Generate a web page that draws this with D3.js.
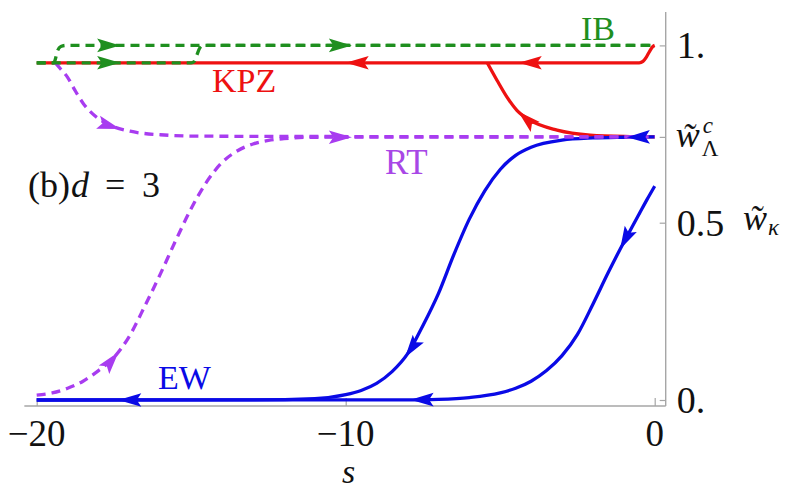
<!DOCTYPE html>
<html><head><meta charset="utf-8">
<script src="https://cdn.jsdelivr.net/npm/d3@7"></script>
<style>
body{margin:0;background:#fff}
svg{display:block}
text{font-family:"Liberation Serif","DejaVu Serif",serif}
</style>
</head><body>
<svg id="c" width="794" height="491"></svg>
<script>
// ---- data ----
const wc = 0.742;
const xTicks = [-20, -10, 0];
const yTicks = [0, 0.5, wc, 1];
const yTickLabels = ["0.", "0.5", "", "1."];

const redMain = [[-20,0.951],[-1,0.951],[-0.5,0.951],[-0.38,0.955],[-0.27,0.967],[-0.16,0.984],[-0.06,0.997],[0,1.0]];
const redBranch = [[-5.42,0.951],[-5.10,0.901],[-4.78,0.854],[-4.46,0.817],[-4.04,0.789],[-3.16,0.761],[-2.09,0.747],[-0.8,0.743],[0,wc]];
const blue1 = [[-20,0],[-13,0.0004],[-11,0.004],[-10,0.015],[-9.5,0.027],[-9,0.047],[-8.5,0.08],[-8,0.13],[-7.5,0.21],[-7,0.30],[-6.5,0.41],[-6,0.51],[-5.5,0.59],[-5,0.65],[-4.5,0.69],[-4,0.713],[-3,0.733],[-2,0.739],[-1,0.741],[0,wc]];
const blue2 = [[-20,0],[-8,0.0005],[-7,0.002],[-6,0.007],[-5,0.02],[-4.5,0.033],[-4,0.053],[-3.5,0.083],[-3,0.125],[-2.5,0.185],[-2,0.27],[-1.5,0.36],[-1,0.445],[-0.75,0.485],[-0.5,0.525],[-0.25,0.565],[0,0.603]];
const purpleA = [[-20,0.014],[-19.5,0.02],[-19,0.033],[-18.5,0.053],[-18,0.083],[-17.5,0.12],[-17,0.18],[-16.5,0.265],[-16,0.355],[-15.5,0.45],[-15,0.54],[-14.5,0.615],[-14,0.67],[-13.5,0.703],[-13,0.722],[-12.5,0.732],[-12,0.737],[-11,0.741],[0,wc]];
const purpleB = [[-19.4,0.951],[-19.24,0.935],[-19.0,0.91],[-18.76,0.873],[-18.5,0.837],[-18.1,0.80],[-17.63,0.775],[-16.98,0.758],[-16.0,0.748],[-14.7,0.744],[0,wc]];
const green1 = [[-20,0.951],[-15.0,0.951],[-14.9,0.955],[-14.82,0.972],[-14.72,0.993],[-14.6,1.0],[0,1.0]];
const green2 = [[-20,0.951],[-19.45,0.951],[-19.4,0.96],[-19.33,0.984],[-19.22,0.997],[-19.05,1.0],[0,1.0]];

// arrows: series name, s of tip, direction (+1 toward larger s, -1 toward smaller s)
const arrows = [
  ["redMain",-10.0,-1],["redMain",-4.4,-1],["redBranch",-4.42,-1],
  ["blue1",-0.9,-1],["blue1",-8.08,-1],["blue2",-1.12,-1],["blue2",-7.9,-1],["blue2",-17.36,-1],
  ["purpleA",-17.35,1],["purpleA",-9.8,1],["purpleB",-17.3,1],
  ["green1",-17.3,1],["green2",-17.3,1],["green2",-9.8,1]
];

const colors = {red:"#ee1111", blue:"#0a0ae6", purple:"#a83cf0", green:"#1f8f1f", axis:"#a6a6a6"};

// ---- drawing ----
const svg = d3.select("#c");
const x = d3.scaleLinear().domain([-20, 0]).range([36.7, 654.7]);
const y = d3.scaleLinear().domain([0, 1]).range([400, 45.4]);
const axX = 665.7, axY = 406;

// axes
svg.append("line").attr("x1", x(-20.4)).attr("x2", axX).attr("y1", axY).attr("y2", axY)
  .attr("stroke", colors.axis).attr("stroke-width", 1.4);
svg.append("line").attr("x1", axX).attr("x2", axX).attr("y1", 12).attr("y2", axY)
  .attr("stroke", colors.axis).attr("stroke-width", 1.4);

const xAxis = svg.append("g").attr("transform", `translate(0,${axY})`)
  .call(d3.axisBottom(x).tickValues(xTicks).tickSize(-8).tickFormat(""));
xAxis.select(".domain").remove();
xAxis.selectAll("line").attr("stroke", colors.axis).attr("stroke-width", 1.2);
svg.append("g").selectAll("text").data(xTicks).join("text")
  .attr("x", d => x(d)).attr("y", 446).attr("text-anchor", "middle")
  .attr("font-size", 37).attr("fill", "#111").text(d => d3.format("d")(d).replace("-", "\u2212"));

const yAxis = svg.append("g").attr("transform", `translate(${axX},0)`)
  .call(d3.axisRight(y).tickValues(yTicks).tickSize(-6).tickFormat(""));
yAxis.select(".domain").remove();
yAxis.selectAll("line").attr("stroke", colors.axis).attr("stroke-width", 1.2);
svg.append("g").selectAll("text").data(yTicks.filter((d,i)=>yTickLabels[i]!=="")).join("text")
  .attr("x", axX + 11).attr("y", d => y(d) + 13)
  .attr("font-size", 38).attr("fill", "#111").text(d => yTickLabels[yTicks.indexOf(d)]);

// w~_Λ^c
const wcl = svg.append("g");
wcl.append("text").attr("x", axX + 10).attr("y", y(wc) + 10.5).attr("font-size", 36)
  .attr("font-style", "italic").attr("fill", "#111").text("w\u0303");
wcl.append("text").attr("x", axX + 37).attr("y", y(wc) - 4).attr("font-size", 23)
  .attr("font-style", "italic").attr("fill", "#111").text("c");
wcl.append("text").attr("x", axX + 36).attr("y", y(wc) + 19).attr("font-size", 23)
  .attr("fill", "#111").text("\u039B");

// axis title w~_κ
svg.append("text").attr("x", 743).attr("y", 230).attr("font-size", 36)
  .attr("font-style", "italic").attr("fill", "#111").text("w\u0303");
svg.append("text").attr("x", 768).attr("y", 235).attr("font-size", 23)
  .attr("font-style", "italic").attr("fill", "#111").text("\u03BA");

// x title
svg.append("text").attr("x", x(-10) + 3).attr("y", 483).attr("text-anchor", "middle")
  .attr("font-size", 34).attr("font-style", "italic").attr("fill", "#111").text("s");

// curves
const line = d3.line().x(d => x(d[0])).y(d => y(d[1])).curve(d3.curveMonotoneX);
const series = {
  redMain:  {data: redMain,  color: colors.red,    dash: null},
  redBranch:{data: redBranch,color: colors.red,    dash: null},
  blue1:    {data: blue1,    color: colors.blue,   dash: null},
  blue2:    {data: blue2,    color: colors.blue,   dash: null},
  purpleA:  {data: purpleA,  color: colors.purple, dash: "9,6"},
  purpleB:  {data: purpleB,  color: colors.purple, dash: "9,6"},
  green1:   {data: green1,   color: colors.green,  dash: "9,6"},
  green2:   {data: green2,   color: colors.green,  dash: "9,6"}
};
const order = ["redMain","redBranch","blue1","blue2","purpleA","purpleB","green1","green2"];
const nodes = {};
const gLines = svg.append("g");
order.forEach(k => {
  const s = series[k];
  const p = gLines.append("path").attr("d", line(s.data)).attr("fill", "none")
    .attr("stroke", s.color).attr("stroke-width", 3.3);
  if (s.dash) p.attr("stroke-dasharray", s.dash);
  nodes[k] = p.node();
});

// arrowheads
const gArr = svg.append("g");
arrows.forEach(([k, sTip, dir]) => {
  const node = nodes[k];
  const total = node.getTotalLength();
  const tx = x(sTip);
  let lo = 0, hi = total;
  for (let i = 0; i < 50; i++) {
    const m = (lo + hi) / 2;
    if (node.getPointAtLength(m).x < tx) lo = m; else hi = m;
  }
  const p = node.getPointAtLength(lo);
  const q = node.getPointAtLength(Math.max(0, Math.min(total, lo - dir * 4)));
  const ang = Math.atan2(p.y - q.y, p.x - q.x) * 180 / Math.PI;
  gArr.append("path").attr("d", "M0,0 L-23,-6.8 L-18.5,0 L-23,6.8 Z")
    .attr("transform", `translate(${p.x},${p.y}) rotate(${ang})`)
    .attr("fill", series[k].color);
});

// labels
svg.append("text").attr("x", 581).attr("y", 40).attr("font-size", 34).attr("fill", colors.green).text("IB");
svg.append("text").attr("x", 212).attr("y", 92).attr("font-size", 34).attr("fill", colors.red).text("KPZ");
svg.append("text").attr("x", 385).attr("y", 174).attr("font-size", 35).attr("fill", "#a847e6").text("RT");
svg.append("text").attr("x", 158).attr("y", 389).attr("font-size", 34).attr("fill", colors.blue).text("EW");
const lab = svg.append("g").attr("font-size", 36).attr("fill", "#111");
lab.append("text").attr("x", 28).attr("y", 197).text("(b)");
lab.append("text").attr("x", 71).attr("y", 197).attr("font-style", "italic").text("d");
lab.append("text").attr("x", 105).attr("y", 197).text("=");
lab.append("text").attr("x", 142).attr("y", 197).text("3");
</script>
</body></html>
